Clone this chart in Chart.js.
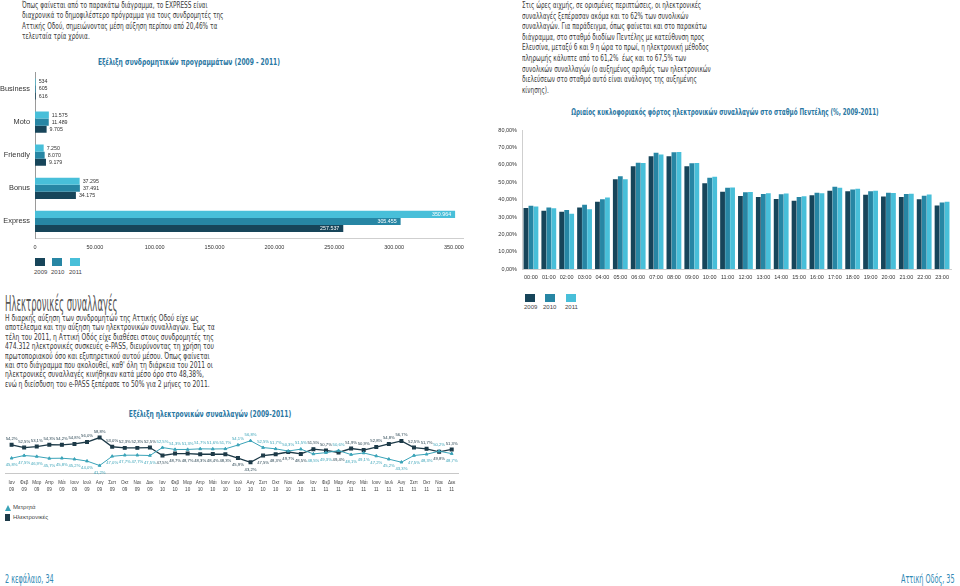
<!DOCTYPE html>
<html lang="el">
<head>
<meta charset="utf-8">
<script src="https://cdn.jsdelivr.net/npm/chart.js"></script>
<style>
  html, body { margin: 0; padding: 0; background: #fff; }
  body { width: 960px; height: 586px; position: relative; overflow: hidden;
         font-family: "DejaVu Sans Condensed", "DejaVu Sans", sans-serif; color: #3a3a3a; }
  .abs { position: absolute; }
  .txt { font-size: 8.6px; line-height: 10.4px; white-space: nowrap; transform-origin: 0 0; }
  .title { font-weight: bold; font-size: 9px; color: #2b78a3; white-space: nowrap;
           transform-origin: 0 0; }
  .heading { font-size: 21px; color: #555; transform: scaleX(0.45); transform-origin: 0 0; white-space: nowrap; }
  .foot { font-size: 12px; color: #3189b5; transform: scaleX(0.6); transform-origin: 0 0; white-space: nowrap; }
  .leg { font-size: 6px; color: #444; font-family: "Liberation Sans", sans-serif; }
  .sw { width: 10px; height: 8px; }
  canvas { position: absolute; }
</style>
</head>
<body>

<div class="abs txt" style="left:22px; top:0px; transform:scaleX(0.75);">
Όπως φαίνεται από το παρακάτω διάγραμμα, το EXPRESS είναι<br>
διαχρονικά το δημοφιλέστερο πρόγραμμα για τους συνδρομητές της<br>
Αττικής Οδού, σημειώνοντας μέση αύξηση περίπου από 20,46% τα<br>
τελευταία τρία χρόνια.
</div>

<div class="abs title" style="left:189px; top:57px; transform:scaleX(0.74) translateX(-50%);">Εξέλιξη συνδρομητικών προγραμμάτων (2009 - 2011)</div>
<canvas id="subsChart" width="470" height="192" style="left:0; top:63px;"></canvas>

<div class="abs sw" style="left:35px; top:258px; background:#17455a;"></div>
<div class="abs sw" style="left:52px; top:258px; background:#2786a4;"></div>
<div class="abs sw" style="left:70px; top:258px; background:#48bfd9;"></div>
<div class="abs leg" style="left:34px; top:269px;">2009</div>
<div class="abs leg" style="left:51px; top:269px;">2010</div>
<div class="abs leg" style="left:69px; top:269px;">2011</div>

<div class="abs heading" style="left:5px; top:292px;">Ηλεκτρονικές συναλλαγές</div>
<div class="abs txt" style="left:5px; top:314px; line-height:9.4px; transform:scaleX(0.78);">
Η διαρκής αύξηση των συνδρομητών της Αττικής Οδού είχε ως<br>
αποτέλεσμα και την αύξηση των ηλεκτρονικών συναλλαγών. Έως τα<br>
τέλη του 2011, η Αττική Οδός είχε διαθέσει στους συνδρομητές της<br>
474.312 ηλεκτρονικές συσκευές e-PASS, διευρύνοντας τη χρήση του<br>
πρωτοποριακού όσο και εξυπηρετικού αυτού μέσου. Όπως φαίνεται<br>
και στο διάγραμμα που ακολουθεί, καθ' όλη τη διάρκεια του 2011 οι<br>
ηλεκτρονικές συναλλαγές κινήθηκαν κατά μέσο όρο στο 48,38%,<br>
ενώ η διείσδυση του e-PASS ξεπέρασε το 50% για 2 μήνες το 2011.
</div>

<div class="abs title" style="left:210px; top:409px; transform:scaleX(0.74) translateX(-50%);">Εξέλιξη ηλεκτρονικών συναλλαγών (2009-2011)</div>
<canvas id="shareChart" width="470" height="78" style="left:0; top:420px;"></canvas>

<div class="abs" style="left:5px; top:505px; width:0; height:0; border-left:3px solid transparent; border-right:3px solid transparent; border-bottom:6px solid #3aa3b8;"></div>
<div class="abs leg" style="left:13px; top:504px;">Μετρητά</div>
<div class="abs" style="left:5px; top:514px; width:5px; height:7px; background:#1d3a48;"></div>
<div class="abs leg" style="left:13px; top:514px;">Ηλεκτρονικές</div>

<div class="abs txt" style="left:522px; top:0px; line-height:10.6px; transform:scaleX(0.74);">
Στις ώρες αιχμής, σε ορισμένες περιπτώσεις, οι ηλεκτρονικές<br>
συναλλαγές ξεπέρασαν ακόμα και το 62% των συνολικών<br>
συναλλαγών. Για παράδειγμα, όπως φαίνεται και στο παρακάτω<br>
διάγραμμα, στο σταθμό διοδίων Πεντέλης με κατεύθυνση προς<br>
Ελευσίνα, μεταξύ 6 και 9 η ώρα το πρωί, η ηλεκτρονική μέθοδος<br>
πληρωμής κάλυπτε από το 61,2% &nbsp;έως και το 67,5% των<br>
συνολικών συναλλαγών (ο αυξημένος αριθμός των ηλεκτρονικών<br>
διελεύσεων στο σταθμό αυτό είναι ανάλογος της αυξημένης<br>
κίνησης).
</div>

<div class="abs title" style="left:725px; top:107px; transform:scaleX(0.69) translateX(-50%);">Ωριαίος κυκλοφοριακός φόρτος ηλεκτρονικών συναλλαγών στο σταθμό Πεντέλης (%, 2009-2011)</div>
<canvas id="hourChart" width="482" height="165" style="left:478px; top:122px;"></canvas>

<div class="abs sw" style="left:525px; top:294px; background:#17455a;"></div>
<div class="abs sw" style="left:545px; top:294px; background:#2786a4;"></div>
<div class="abs sw" style="left:566px; top:294px; background:#48bfd9;"></div>
<div class="abs leg" style="left:524px; top:304px;">2009</div>
<div class="abs leg" style="left:543px; top:304px;">2010</div>
<div class="abs leg" style="left:565px; top:304px;">2011</div>

<div class="abs foot" style="left:5px; top:572px;">2 κεφάλαιο, 34</div>
<div class="abs foot" style="left:901px; top:572px;">Αττική Οδός, 35</div>

<script>
const FONT = '"Liberation Sans", Arial, sans-serif';
const DARK = "#17455a";
const MID = "#2786a4";
const LIGHT = "#48bfd9";

// subscription programmes
const programmes = ["Business", "Moto", "Friendly", "Bonus", "Express"];
const subs2009 = [616, 9705, 9179, 34175, 257537];
const subs2010 = [605, 11489, 8070, 37491, 305455];
const subs2011 = [534, 11575, 7250, 37295, 350964];
const subsTicks = [0, 50000, 100000, 150000, 200000, 250000, 300000, 350000];

// hourly electronic share at Penteli
const hours = ["00:00", "01:00", "02:00", "03:00", "04:00", "05:00", "06:00", "07:00",
  "08:00", "09:00", "10:00", "11:00", "12:00", "13:00", "14:00", "15:00",
  "16:00", "17:00", "18:00", "19:00", "20:00", "21:00", "22:00", "23:00"];
const hourly2009 = [35.2, 33.6, 33.0, 35.5, 38.8, 51.8, 59.3, 65.0, 65.1, 59.2, 49.4, 44.6,
  42.1, 41.5, 40.4, 39.4, 42.5, 45.2, 44.8, 42.8, 41.8, 41.6, 40.2, 36.6];
const hourly2010 = [36.5, 35.5, 34.0, 37.0, 40.2, 53.5, 61.3, 67.1, 67.3, 61.0, 52.6, 46.8,
  44.3, 43.2, 43.1, 41.6, 44.0, 47.4, 45.8, 44.8, 44.0, 43.3, 42.2, 38.4];
const hourly2011 = [36.0, 35.0, 31.8, 34.5, 41.3, 51.7, 61.2, 66.0, 67.5, 61.2, 53.2, 47.0,
  44.4, 43.7, 43.6, 41.9, 43.7, 46.8, 46.3, 45.2, 43.8, 43.4, 43.0, 38.8];
const hourTicks = [0, 10, 20, 30, 40, 50, 60, 70, 80];

// monthly shares 2009-2011
const months = ["Ιαν", "Φεβ", "Μαρ", "Απρ", "Μάι", "Ιουν", "Ιουλ", "Αυγ", "Σεπ", "Οκτ", "Νοε", "Δεκ"];
const years = ["09", "10", "11"];
const cashShare = [45.8, 47.5, 46.9, 45.7, 45.8, 45.2, 44.0, 41.2, 47.0, 47.7, 47.7, 47.5,
  52.5, 51.3, 51.3, 51.7, 51.6, 51.7, 54.1, 56.8, 52.5, 51.7, 50.3, 51.5,
  48.5, 49.3, 50.6, 48.1, 49.1, 47.2, 45.2, 43.3, 47.5, 48.3, 50.2, 48.7];
const epassShare = [54.2, 52.5, 53.1, 54.3, 54.2, 54.8, 56.0, 58.8, 53.0, 52.3, 52.3, 52.5,
  47.5, 48.7, 48.7, 48.3, 48.4, 48.3, 45.9, 43.2, 47.5, 48.3, 49.7, 48.5,
  51.5, 50.7, 49.4, 51.9, 50.9, 52.8, 54.8, 56.7, 52.5, 51.7, 49.8, 51.3];

const monthLabels = [];
years.forEach(y => months.forEach(m => monthLabels.push([m, y])));

function dots(n) {
  return String(n).replace(/\B(?=(\d{3})+(?!\d))/g, ".");
}
function pct(v, d) {
  return v.toFixed(d).replace(".", ",") + "%";
}

// value labels next to the horizontal bars
const barValues = {
  id: "barValues",
  afterDatasetsDraw(chart) {
    const ctx = chart.ctx;
    ctx.save();
    ctx.font = "5.3px " + FONT;
    ctx.textBaseline = "middle";
    chart.data.datasets.forEach((ds, i) => {
      chart.getDatasetMeta(i).data.forEach((bar, j) => {
        const v = ds.data[j];
        if (v > 200000) {
          ctx.fillStyle = "#fff";
          ctx.textAlign = "right";
          ctx.fillText(dots(v), bar.x - 4, bar.y);
        } else {
          ctx.fillStyle = "#333";
          ctx.textAlign = "left";
          ctx.fillText(dots(v), Math.max(bar.x, chart.chartArea.left) + 3, bar.y);
        }
      });
    });
    ctx.restore();
  }
};

// percentage labels over / under the points of the line chart
const pointValues = {
  id: "pointValues",
  afterDatasetsDraw(chart) {
    const ctx = chart.ctx;
    const a = chart.data.datasets[0].data;
    const b = chart.data.datasets[1].data;
    ctx.save();
    ctx.font = "4.2px " + FONT;
    ctx.textAlign = "center";
    ctx.textBaseline = "middle";
    chart.data.datasets.forEach((ds, i) => {
      chart.getDatasetMeta(i).data.forEach((pt, j) => {
        const other = i === 0 ? b[j] : a[j];
        const up = ds.data[j] >= other;
        ctx.fillStyle = ds.borderColor;
        ctx.fillText(pct(ds.data[j], 1), pt.x, pt.y + (up ? -6 : 7));
      });
    });
    ctx.restore();
  }
};

new Chart("subsChart", {
  type: "bar",
  data: {
    labels: programmes,
    datasets: [
      { label: "2011", data: subs2011, backgroundColor: LIGHT },
      { label: "2010", data: subs2010, backgroundColor: MID },
      { label: "2009", data: subs2009, backgroundColor: DARK },
    ],
  },
  options: {
    indexAxis: "y",
    responsive: false,
    animation: false,
    layout: { padding: { top: 5, right: 5, left: 0, bottom: 0 } },
    datasets: { bar: { categoryPercentage: 0.64, barPercentage: 1.0 } },
    plugins: { legend: { display: false }, tooltip: { enabled: false } },
    scales: {
      x: {
        min: 0, max: 358000,
        afterBuildTicks: s => { s.ticks = subsTicks.map(v => ({ value: v })); },
        ticks: { padding: 6, color: "#333", font: { family: FONT, size: 5.5 },
                 callback: v => dots(v) },
        grid: { display: false, drawTicks: false },
        border: { color: "#cfcfcf" },
        afterFit: s => { s.height = 17; },
      },
      y: {
        ticks: { padding: 5, color: "#333", font: { family: FONT, size: 7.4 } },
        grid: { display: false, drawTicks: false },
        border: { color: "#9a9a9a" },
        afterFit: s => { s.width = 35; },
      },
    },
  },
  plugins: [barValues],
});

new Chart("hourChart", {
  type: "bar",
  data: {
    labels: hours,
    datasets: [
      { label: "2009", data: hourly2009, backgroundColor: DARK },
      { label: "2010", data: hourly2010, backgroundColor: MID },
      { label: "2011", data: hourly2011, backgroundColor: LIGHT },
    ],
  },
  options: {
    responsive: false,
    animation: false,
    layout: { padding: { top: 8, right: 9, left: 0, bottom: 0 } },
    datasets: { bar: { categoryPercentage: 0.84, barPercentage: 0.96 } },
    plugins: { legend: { display: false }, tooltip: { enabled: false } },
    scales: {
      x: {
        ticks: { padding: 5, color: "#333", maxRotation: 0, autoSkip: false,
                 font: { family: FONT, size: 5.5 } },
        grid: { display: false, drawTicks: false },
        border: { color: "#cfcfcf" },
        afterFit: s => { s.height = 18; },
      },
      y: {
        min: 0, max: 80,
        afterBuildTicks: s => { s.ticks = hourTicks.map(v => ({ value: v })); },
        ticks: { padding: 5, color: "#333", font: { family: FONT, size: 5.5 },
                 callback: v => pct(v, 2) },
        grid: { display: false, drawTicks: false },
        border: { color: "#cfcfcf" },
        afterFit: s => { s.width = 44; },
      },
    },
  },
});

new Chart("shareChart", {
  type: "line",
  data: {
    labels: monthLabels,
    datasets: [
      { label: "Μετρητά", data: cashShare, borderColor: "#3aa3b8", backgroundColor: "#3aa3b8",
        borderWidth: 1, pointStyle: "triangle", pointRadius: 1.6, tension: 0 },
      { label: "Ηλεκτρονικές", data: epassShare, borderColor: "#1d3a48", backgroundColor: "#1d3a48",
        borderWidth: 1.3, pointStyle: "rect", pointRadius: 1.9, tension: 0 },
    ],
  },
  options: {
    responsive: false,
    animation: false,
    layout: { padding: { top: 5, right: 12, left: 0, bottom: 0 } },
    plugins: { legend: { display: false }, tooltip: { enabled: false } },
    scales: {
      x: {
        offset: true,
        ticks: { padding: 6, color: "#444", maxRotation: 0, autoSkip: false,
                 font: { family: FONT, size: 4.6, lineHeight: 1.6 } },
        grid: { display: false, drawTicks: false },
        border: { color: "#c8c8c8", dash: [1, 1] },
        afterFit: s => { s.height = 25; },
      },
      y: { display: false, min: 36.5, max: 66.5 },
    },
  },
  plugins: [pointValues],
});
</script>
</body>
</html>
